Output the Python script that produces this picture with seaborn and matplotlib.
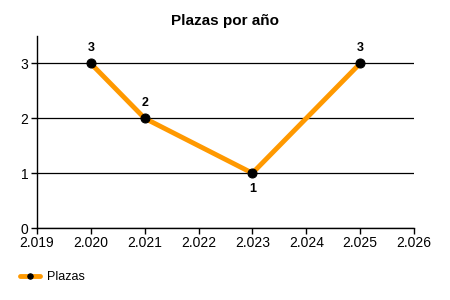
import matplotlib
matplotlib.use("Agg")
import matplotlib.pyplot as plt
import seaborn as sns
import pandas as pd
from matplotlib.ticker import FuncFormatter, MultipleLocator

years = [2020, 2021, 2023, 2025]
plazas = [3, 2, 1, 3]
series_name = "Plazas"
title = "Plazas por año"

df = pd.DataFrame({"year": years, "plazas": plazas})

sns.set_style("white")
plt.rcParams['font.family'] = ['Liberation Sans', 'DejaVu Sans']
plt.rcParams['text.color'] = 'black'
plt.rcParams['xtick.color'] = 'black'
plt.rcParams['ytick.color'] = 'black'
plt.rcParams['axes.labelcolor'] = 'black'

fig = plt.figure(figsize=(4.5, 3), dpi=100)
ax = fig.add_axes([0.082, 0.24, 0.838, 0.64])

sns.lineplot(data=df, x="year", y="plazas", ax=ax, color="#FF9900", linewidth=3.5,
             marker="o", markersize=6.5, markerfacecolor="black", markeredgecolor="black",
             label=series_name, zorder=3)

for i, (x, y) in enumerate(zip(years, plazas)):
    below = i > 0 and i < len(years) - 1 and plazas[i - 1] > y and plazas[i + 1] > y
    if below:
        ax.annotate(str(y), (x, y), xytext=(0, -7), textcoords="offset points",
                    ha="center", va="top", fontsize=9, fontweight="bold", color="black")
    else:
        ax.annotate(str(y), (x, y), xytext=(0, 7), textcoords="offset points",
                    ha="center", va="bottom", fontsize=9, fontweight="bold", color="black")

ax.set_xlim(2019, 2026)
ax.set_ylim(0, 3.5)
ax.xaxis.set_major_locator(MultipleLocator(1))
ax.xaxis.set_major_formatter(FuncFormatter(lambda v, p: f"{int(round(v)):,}".replace(",", ".")))
ax.set_yticks([0, 1, 2, 3])
ax.grid(axis="y", color="black", linewidth=0.9)
ax.grid(axis="x", visible=False)
ax.set_axisbelow(True)
for s in ["top", "right"]:
    ax.spines[s].set_visible(False)
for s in ["left", "bottom"]:
    ax.spines[s].set_color("black")
    ax.spines[s].set_linewidth(1)
ax.tick_params(axis="both", length=4, width=1, color="black", labelcolor="black",
               labelsize=10, direction="out", bottom=True, left=True, pad=2)
ax.set_xlabel("")
ax.set_ylabel("")
ax.set_title(title, fontsize=11, fontweight="bold", pad=8, color="black")

ax.legend(loc="center left", bbox_to_anchor=(0.045, 0.077), bbox_transform=fig.transFigure,
          frameon=False, fontsize=9, handlelength=1.6, handletextpad=0.5, borderaxespad=0,
          borderpad=0, markerscale=0.6, labelcolor="black")

fig.savefig("out.png", dpi=100)
